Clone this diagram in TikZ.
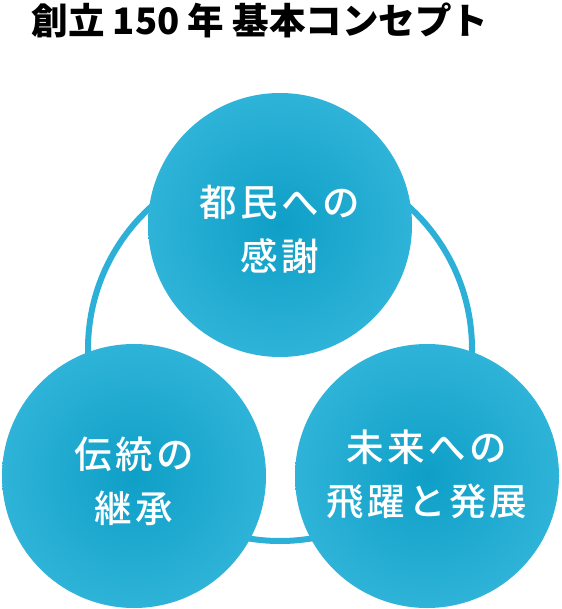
\documentclass[tikz,border=0pt]{standalone}
\usepackage{fontspec}
\newfontfamily\jpfont{Noto Sans CJK JP}
\newfontfamily\jptext[LetterSpace=9]{Noto Sans CJK JP Medium}
\usepackage{tikz}
\definecolor{ringblue}{HTML}{2CB0D7}
\definecolor{discin}{HTML}{0E9FC7}
\definecolor{discout}{HTML}{2FB3D8}

\begin{document}
\begin{tikzpicture}[x=1pt,y=-1pt,
		disc/.style={circle,minimum size=264pt,inner sep=0pt,shading=radial,
			inner color=discin,outer color=discout},
		disctext/.style={text=white,align=center,inner sep=0pt,
			font=\jptext\fontsize{37.5}{54}\selectfont}]
			\useasboundingbox (0,0) rectangle (561,609);
			% title
			\node[anchor=west,font=\jpfont\bfseries\fontsize{36.5}{40}\selectfont] (title) at (28,20) {創立 150 年 基本コンセプト};
			% ring behind the discs
			\draw[ringblue,line width=6pt] (280,349) circle (192);
			% three discs
			\node[disc] (thanks) at (280,225) {};
			\node[disc] (legacy) at (134,476) {};
			\node[disc] (future) at (427,476) {};
			% texts
			\node[disctext] (thankstext) at ([yshift=-4pt]thanks.center) {都民への\\感謝};
			\node[disctext] (legacytext) at ([yshift=-5pt]legacy.center) {伝統の\\継承};
			\node[disctext] (futuretext) at ([yshift=2pt]future.center) {未来への\\飛躍と発展};
		\end{tikzpicture}
\end{document}
